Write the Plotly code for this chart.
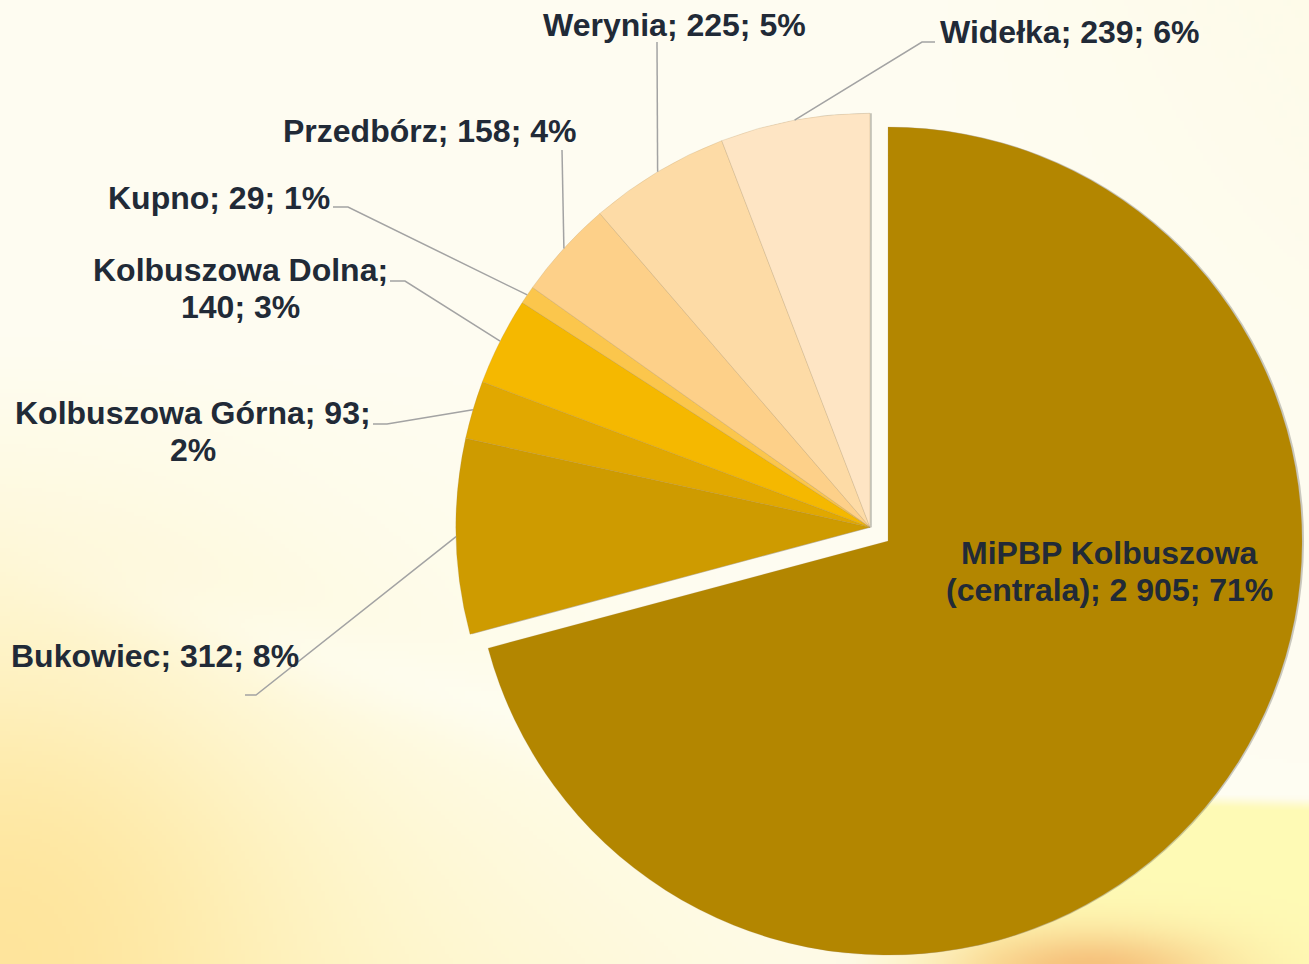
import base64, struct, zlib
import numpy as np
import plotly.graph_objects as go

# ---------------- data ----------------
categories = ["MiPBP Kolbuszowa (centrala)", "Bukowiec", "Kolbuszowa Górna",
              "Kolbuszowa Dolna", "Kupno", "Przedbórz", "Werynia", "Widełka"]
values = [2905, 312, 93, 140, 29, 158, 225, 239]
colors = ["#B38600", "#CE9B00", "#E1A800", "#F5B800",
          "#FBC64C", "#FDD089", "#FDDBA6", "#FEE5C4"]

W, H = 1309, 964
PULL = 0.055
TEXT_COLOR = "#212A37"
FONT = "Liberation Sans, Arial, sans-serif"
FS = 32

# pie geometry (paper domain)
dom_y = [0.0, 0.9062]
box_h = H * (dom_y[1] - dom_y[0])
half_w = box_h / 2 / W + 0.0001
cx_frac = 0.6646
dom_x = [cx_frac - half_w, cx_frac + half_w]

box_w = W * (dom_x[1] - dom_x[0])
R = min(box_w, box_h) / 2 / (1 + PULL)
CX = W * cx_frac
CY = H * (1 - dom_y[0]) - box_h / 2

total = sum(values)
pcts = [round(100 * v / total) for v in values]


def fmt(v):
    return f"{v:,}".replace(",", " ")


labels_full = [f"{c}; {fmt(v)}; {p}%" for c, v, p in zip(categories, values, pcts)]

# mid-angle (clockwise from 12 o'clock) edge points for leader lines
cum = np.cumsum([0] + values)
mid_deg = [(cum[i] + values[i] / 2) / total * 360 for i in range(len(values))]
edge_pts = [(CX + R * np.sin(np.radians(a)), CY - R * np.cos(np.radians(a))) for a in mid_deg]

# ---------------- background gradient ----------------
s = 4
hh, ww = H // s + 1, W // s + 1
yy, xx = np.mgrid[0:hh, 0:ww].astype(float)
xx *= s
yy *= s
img = np.zeros((hh, ww, 3))
img[:] = np.array([254, 253, 242.0])


def blend(img, w, col):
    w = np.clip(w, 0, 1)[..., None]
    return img * (1 - w) + np.array(col, float) * w


img = blend(img, 0.6 * np.clip((xx - 900) / 409, 0, 1) * np.clip(1 - yy / 600, 0, 1), [254, 250, 228])
wl = np.clip(1 - xx / 800, 0, 1) ** 1.3 * np.clip((yy - 350) / 500, 0, 1)
img = blend(img, 0.75 * wl, [255, 247, 190])
wb = np.clip((yy - 700) / 264, 0, 1) * np.clip(1 - xx / 1100, 0, 1)
img = blend(img, 0.7 * wb, [255, 243, 185])
wbl = np.exp(-((xx / 260) ** 2 + ((H - yy) / 300) ** 2))
img = blend(img, 0.85 * wbl, [255, 226, 150])
d = (yy - (560 + 0.3 * xx))
img = blend(img, 0.45 * np.exp(-(d / 40) ** 2) * np.clip(xx / 300, 0, 1), [255, 255, 248])
edge = 790 + 0.03 * (xx - 1000)
wr = np.clip((yy - edge) / 12, 0, 1) * np.clip((xx - 850) / 150, 0, 1)
img = blend(img, 0.9 * wr, [255, 250, 175])
wo = np.exp(-(((xx - 1090) / 130) ** 2 + ((yy - 972) / 40) ** 2))
img = blend(img, 0.95 * wo, [246, 190, 120])
img = np.clip(img, 0, 255).astype(np.uint8)


def png_uri(arr):
    h, w, _ = arr.shape
    raw = b"".join(b"\x00" + arr[i].tobytes() for i in range(h))

    def chunk(tag, data):
        c = struct.pack(">I", len(data)) + tag + data
        return c + struct.pack(">I", zlib.crc32(tag + data) & 0xFFFFFFFF)

    png = (b"\x89PNG\r\n\x1a\n"
           + chunk(b"IHDR", struct.pack(">IIBBBBB", w, h, 8, 2, 0, 0, 0))
           + chunk(b"IDAT", zlib.compress(raw, 9))
           + chunk(b"IEND", b""))
    return "data:image/png;base64," + base64.b64encode(png).decode()


# ---------------- figure ----------------
fig = go.Figure()
pulls = [PULL] + [0] * (len(values) - 1)

# shadow (offset copy)
shift = min(2.0 / W, 1 - dom_x[1])
fig.add_trace(go.Pie(
    values=values, labels=categories, sort=False, direction="clockwise", rotation=0,
    pull=pulls, textinfo="none", hoverinfo="skip", showlegend=False,
    marker=dict(colors=["rgba(70,70,60,0.28)"] * len(values), line=dict(width=0)),
    domain=dict(x=[dom_x[0] + shift, dom_x[1] + shift], y=dom_y),
))

fig.add_trace(go.Pie(
    values=values, labels=categories, sort=False, direction="clockwise", rotation=0,
    pull=pulls, textinfo="none", showlegend=False,
    marker=dict(colors=colors, line=dict(width=0.6, color="rgba(170,140,90,0.35)")),
    domain=dict(x=dom_x, y=dom_y),
))


def px(x):
    return x / W


def py(y):
    return 1 - y / H


# label placement: line centres in pixels; third item = number of words on the first line
label_layout = {
    0: ([1109, 553], [1109, 590], 2),
    1: ([155, 656],),
    2: ([193, 413], [193, 450], 3),
    3: ([240, 270], [240, 307], 2),
    4: ([219, 198],),
    5: ([429, 131],),
    6: ([674, 25],),
    7: ([1069, 32],),
}

annotations = []
for i, spec in label_layout.items():
    text = labels_full[i]
    if len(spec) == 3:
        words = text.split(" ")
        k = spec[2]
        lines = [" ".join(words[:k]), " ".join(words[k:])]
        pos = [spec[0], spec[1]]
    else:
        lines = [text]
        pos = [spec[0]]
    for ln, (x, y) in zip(lines, pos):
        annotations.append(dict(
            text=ln, x=px(x), y=py(y), xref="paper", yref="paper",
            xanchor="center", yanchor="middle", showarrow=False,
            font=dict(family=FONT, size=FS, color=TEXT_COLOR, weight="bold"),
        ))

leader_anchor = {
    1: [(245, 695), (256, 695)],
    2: [(373, 424), (387, 424)],
    3: [(390, 281), (405, 281)],
    4: [(333, 207), (348, 207)],
    5: [(562, 150)],
    6: [(657, 42)],
    7: [(935, 42), (922, 42)],
}
shapes = []
for i, pts in leader_anchor.items():
    all_pts = pts + [edge_pts[i]]
    path = "M " + " L ".join(f"{px(x):.5f},{py(y):.5f}" for x, y in all_pts)
    shapes.append(dict(type="path", path=path, xref="paper", yref="paper",
                       line=dict(color="#A3A3A3", width=1.5), layer="above"))

fig.update_layout(
    width=W, height=H,
    margin=dict(l=0, r=0, t=0, b=0),
    paper_bgcolor="#FEFDF2", plot_bgcolor="rgba(0,0,0,0)",
    images=[dict(source=png_uri(img), xref="paper", yref="paper", x=0, y=1,
                 sizex=1, sizey=1, sizing="stretch", xanchor="left", yanchor="top",
                 layer="below")],
    annotations=annotations,
    shapes=shapes,
    showlegend=False,
)

fig.write_html("out.html", config={"displayModeBar": False},
               post_script="document.body.style.margin='0';document.body.style.overflow='hidden';")
